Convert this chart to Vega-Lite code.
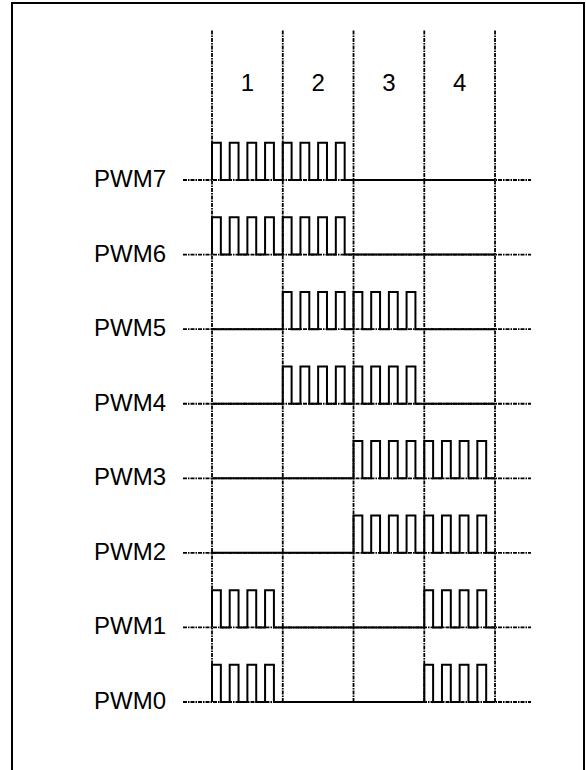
{
  "$schema": "https://vega.github.io/schema/vega-lite/v6.json",
  "width": 586,
  "height": 770,
  "autosize": {"type": "fit", "contains": "padding"},
  "padding": {"left": 12, "top": 3, "right": 2, "bottom": -5},
  "background": "white",
  "config": {"view": {"stroke": "black", "strokeWidth": 2}},
  "datasets": {
    "grid": [{"t": 0}, {"t": 8}, {"t": 16}, {"t": 24}, {"t": 32}],
    "cols": [{"c": "1", "t": 4}, {"c": "2", "t": 12}, {"c": "3", "t": 20}, {"c": "4", "t": 28}],
    "chans": [
      {"name": "PWM7", "k": 7}, {"name": "PWM6", "k": 6}, {"name": "PWM5", "k": 5}, {"name": "PWM4", "k": 4},
      {"name": "PWM3", "k": 3}, {"name": "PWM2", "k": 2}, {"name": "PWM1", "k": 1}, {"name": "PWM0", "k": 0}
    ],
    "wave": [
      {"ch": "PWM7", "t": 0, "y": 7}, {"ch": "PWM7", "t": 0, "y": 7.5}, {"ch": "PWM7", "t": 1, "y": 7}, {"ch": "PWM7", "t": 2, "y": 7.5}, {"ch": "PWM7", "t": 3, "y": 7}, {"ch": "PWM7", "t": 4, "y": 7.5}, {"ch": "PWM7", "t": 5, "y": 7}, {"ch": "PWM7", "t": 6, "y": 7.5}, {"ch": "PWM7", "t": 7, "y": 7}, {"ch": "PWM7", "t": 8, "y": 7.5}, {"ch": "PWM7", "t": 9, "y": 7}, {"ch": "PWM7", "t": 10, "y": 7.5}, {"ch": "PWM7", "t": 11, "y": 7}, {"ch": "PWM7", "t": 12, "y": 7.5}, {"ch": "PWM7", "t": 13, "y": 7}, {"ch": "PWM7", "t": 14, "y": 7.5}, {"ch": "PWM7", "t": 15, "y": 7}, {"ch": "PWM7", "t": 32, "y": 7},
      {"ch": "PWM6", "t": 0, "y": 6}, {"ch": "PWM6", "t": 0, "y": 6.5}, {"ch": "PWM6", "t": 1, "y": 6}, {"ch": "PWM6", "t": 2, "y": 6.5}, {"ch": "PWM6", "t": 3, "y": 6}, {"ch": "PWM6", "t": 4, "y": 6.5}, {"ch": "PWM6", "t": 5, "y": 6}, {"ch": "PWM6", "t": 6, "y": 6.5}, {"ch": "PWM6", "t": 7, "y": 6}, {"ch": "PWM6", "t": 8, "y": 6.5}, {"ch": "PWM6", "t": 9, "y": 6}, {"ch": "PWM6", "t": 10, "y": 6.5}, {"ch": "PWM6", "t": 11, "y": 6}, {"ch": "PWM6", "t": 12, "y": 6.5}, {"ch": "PWM6", "t": 13, "y": 6}, {"ch": "PWM6", "t": 14, "y": 6.5}, {"ch": "PWM6", "t": 15, "y": 6}, {"ch": "PWM6", "t": 32, "y": 6},
      {"ch": "PWM5", "t": 0, "y": 5}, {"ch": "PWM5", "t": 8, "y": 5.5}, {"ch": "PWM5", "t": 9, "y": 5}, {"ch": "PWM5", "t": 10, "y": 5.5}, {"ch": "PWM5", "t": 11, "y": 5}, {"ch": "PWM5", "t": 12, "y": 5.5}, {"ch": "PWM5", "t": 13, "y": 5}, {"ch": "PWM5", "t": 14, "y": 5.5}, {"ch": "PWM5", "t": 15, "y": 5}, {"ch": "PWM5", "t": 16, "y": 5.5}, {"ch": "PWM5", "t": 17, "y": 5}, {"ch": "PWM5", "t": 18, "y": 5.5}, {"ch": "PWM5", "t": 19, "y": 5}, {"ch": "PWM5", "t": 20, "y": 5.5}, {"ch": "PWM5", "t": 21, "y": 5}, {"ch": "PWM5", "t": 22, "y": 5.5}, {"ch": "PWM5", "t": 23, "y": 5}, {"ch": "PWM5", "t": 32, "y": 5},
      {"ch": "PWM4", "t": 0, "y": 4}, {"ch": "PWM4", "t": 8, "y": 4.5}, {"ch": "PWM4", "t": 9, "y": 4}, {"ch": "PWM4", "t": 10, "y": 4.5}, {"ch": "PWM4", "t": 11, "y": 4}, {"ch": "PWM4", "t": 12, "y": 4.5}, {"ch": "PWM4", "t": 13, "y": 4}, {"ch": "PWM4", "t": 14, "y": 4.5}, {"ch": "PWM4", "t": 15, "y": 4}, {"ch": "PWM4", "t": 16, "y": 4.5}, {"ch": "PWM4", "t": 17, "y": 4}, {"ch": "PWM4", "t": 18, "y": 4.5}, {"ch": "PWM4", "t": 19, "y": 4}, {"ch": "PWM4", "t": 20, "y": 4.5}, {"ch": "PWM4", "t": 21, "y": 4}, {"ch": "PWM4", "t": 22, "y": 4.5}, {"ch": "PWM4", "t": 23, "y": 4}, {"ch": "PWM4", "t": 32, "y": 4},
      {"ch": "PWM3", "t": 0, "y": 3}, {"ch": "PWM3", "t": 16, "y": 3.5}, {"ch": "PWM3", "t": 17, "y": 3}, {"ch": "PWM3", "t": 18, "y": 3.5}, {"ch": "PWM3", "t": 19, "y": 3}, {"ch": "PWM3", "t": 20, "y": 3.5}, {"ch": "PWM3", "t": 21, "y": 3}, {"ch": "PWM3", "t": 22, "y": 3.5}, {"ch": "PWM3", "t": 23, "y": 3}, {"ch": "PWM3", "t": 24, "y": 3.5}, {"ch": "PWM3", "t": 25, "y": 3}, {"ch": "PWM3", "t": 26, "y": 3.5}, {"ch": "PWM3", "t": 27, "y": 3}, {"ch": "PWM3", "t": 28, "y": 3.5}, {"ch": "PWM3", "t": 29, "y": 3}, {"ch": "PWM3", "t": 30, "y": 3.5}, {"ch": "PWM3", "t": 31, "y": 3}, {"ch": "PWM3", "t": 32, "y": 3},
      {"ch": "PWM2", "t": 0, "y": 2}, {"ch": "PWM2", "t": 16, "y": 2.5}, {"ch": "PWM2", "t": 17, "y": 2}, {"ch": "PWM2", "t": 18, "y": 2.5}, {"ch": "PWM2", "t": 19, "y": 2}, {"ch": "PWM2", "t": 20, "y": 2.5}, {"ch": "PWM2", "t": 21, "y": 2}, {"ch": "PWM2", "t": 22, "y": 2.5}, {"ch": "PWM2", "t": 23, "y": 2}, {"ch": "PWM2", "t": 24, "y": 2.5}, {"ch": "PWM2", "t": 25, "y": 2}, {"ch": "PWM2", "t": 26, "y": 2.5}, {"ch": "PWM2", "t": 27, "y": 2}, {"ch": "PWM2", "t": 28, "y": 2.5}, {"ch": "PWM2", "t": 29, "y": 2}, {"ch": "PWM2", "t": 30, "y": 2.5}, {"ch": "PWM2", "t": 31, "y": 2}, {"ch": "PWM2", "t": 32, "y": 2},
      {"ch": "PWM1", "t": 0, "y": 1}, {"ch": "PWM1", "t": 0, "y": 1.5}, {"ch": "PWM1", "t": 1, "y": 1}, {"ch": "PWM1", "t": 2, "y": 1.5}, {"ch": "PWM1", "t": 3, "y": 1}, {"ch": "PWM1", "t": 4, "y": 1.5}, {"ch": "PWM1", "t": 5, "y": 1}, {"ch": "PWM1", "t": 6, "y": 1.5}, {"ch": "PWM1", "t": 7, "y": 1}, {"ch": "PWM1", "t": 24, "y": 1.5}, {"ch": "PWM1", "t": 25, "y": 1}, {"ch": "PWM1", "t": 26, "y": 1.5}, {"ch": "PWM1", "t": 27, "y": 1}, {"ch": "PWM1", "t": 28, "y": 1.5}, {"ch": "PWM1", "t": 29, "y": 1}, {"ch": "PWM1", "t": 30, "y": 1.5}, {"ch": "PWM1", "t": 31, "y": 1}, {"ch": "PWM1", "t": 32, "y": 1},
      {"ch": "PWM0", "t": 0, "y": 0}, {"ch": "PWM0", "t": 0, "y": 0.5}, {"ch": "PWM0", "t": 1, "y": 0}, {"ch": "PWM0", "t": 2, "y": 0.5}, {"ch": "PWM0", "t": 3, "y": 0}, {"ch": "PWM0", "t": 4, "y": 0.5}, {"ch": "PWM0", "t": 5, "y": 0}, {"ch": "PWM0", "t": 6, "y": 0.5}, {"ch": "PWM0", "t": 7, "y": 0}, {"ch": "PWM0", "t": 24, "y": 0.5}, {"ch": "PWM0", "t": 25, "y": 0}, {"ch": "PWM0", "t": 26, "y": 0.5}, {"ch": "PWM0", "t": 27, "y": 0}, {"ch": "PWM0", "t": 28, "y": 0.5}, {"ch": "PWM0", "t": 29, "y": 0}, {"ch": "PWM0", "t": 30, "y": 0.5}, {"ch": "PWM0", "t": 31, "y": 0}, {"ch": "PWM0", "t": 32, "y": 0}
    ]
  },
  "layer": [
    {
      "data": {"name": "grid"},
      "mark": {"type": "rule", "color": "black", "strokeWidth": 1.8, "strokeDash": [4, 1, 1.5, 1]},
      "encoding": {
        "x": {"field": "t", "type": "quantitative", "scale": {"domain": [-22.614, 42.06], "nice": false, "zero": false}, "axis": null},
        "y": {"datum": 0, "type": "quantitative", "scale": {"domain": [-0.979, 9.374], "nice": false, "zero": false}, "axis": null},
        "y2": {"datum": 9.01}
      }
    },
    {
      "data": {"name": "chans"},
      "mark": {"type": "rule", "color": "black", "strokeWidth": 1.8, "strokeDash": [4, 1, 1.5, 1]},
      "encoding": {
        "x": {"datum": -3.28, "type": "quantitative"},
        "x2": {"datum": 36.07},
        "y": {"field": "k", "type": "quantitative"}
      }
    },
    {
      "data": {"name": "wave"},
      "mark": {"type": "line", "interpolate": "step-after", "color": "black", "strokeWidth": 2},
      "encoding": {
        "x": {"field": "t", "type": "quantitative"},
        "y": {"field": "y", "type": "quantitative"},
        "detail": {"field": "ch"},
        "order": {"value": null}
      }
    },
    {
      "data": {"name": "chans"},
      "mark": {"type": "text", "align": "right", "baseline": "middle", "font": "Liberation Sans", "fontSize": 24, "color": "black"},
      "encoding": {
        "x": {"datum": -5.2, "type": "quantitative"},
        "y": {"field": "k", "type": "quantitative"},
        "text": {"field": "name"}
      }
    },
    {
      "data": {"name": "cols"},
      "mark": {"type": "text", "align": "center", "baseline": "middle", "font": "Liberation Sans", "fontSize": 24, "color": "black"},
      "encoding": {
        "x": {"field": "t", "type": "quantitative"},
        "y": {"datum": 8.287, "type": "quantitative"},
        "text": {"field": "c"}
      }
    }
  ]
}
